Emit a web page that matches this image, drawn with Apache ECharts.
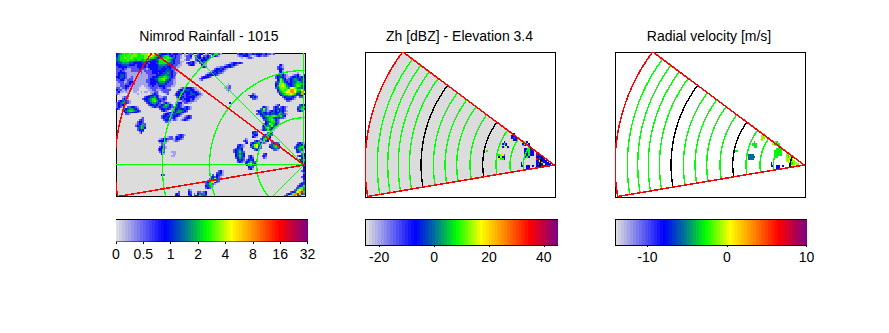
<!DOCTYPE html>
<html><head><meta charset="utf-8">
<style>html,body{margin:0;padding:0;background:#fff}#c{width:889px;height:333px}
svg path,svg rect,svg line{shape-rendering:crispEdges}</style>
<script src="https://cdn.jsdelivr.net/npm/echarts@6/dist/echarts.min.js"></script>
</head><body><div id="c"></div>
<script>
const titles=["Nimrod Rainfall - 1015","Zh [dBZ] - Elevation 3.4","Radial velocity [m/s]"];
const rainTickLabels=["0","0.5","1","2","4","8","16","32"];
const rainTicks=[0,1,2,3,4,5,6,7];
const zhTicks=[-20,0,20,40];
const velTicks=[-10,0,10];
// range rings in km
const mapRings=[50,100,150];
const mapSpokes=[90,135,180,225];
const sweepRings=[14.8,32.5,46.6,61.4,75.5,88.9,103,115.3,127.7,140.7,153,164.8,176,187];
const sweepBlackRings=[14.8,75.5,140.7];
const sectorRange=200, sectorAngles=[143.2,189.6];
// level letters -> position on each colour scale
const rainLevels={a:.5,b:1.15,c:1.7,d:2.3,e:2.8,f:3.2,g:3.7,h:4.2,i:5,j:6};
const zhLevels={a:-15,c:-7,d:-2,e:3,f:8,g:13,h:18,i:25,j:35,k:42};
const velLevels={c:-8,d:-5.5,e:-4,f:-3,g:-1,h:.5};
// [column, row, cells]: 2 km raster
const rainPatches=[
[0,0,["cdefgffgfggffgggghhhggfdcccdcbcccbb.a.bbc..bcc",
"ceffgfgfgggffffgghhgfedcdeffdcbcbba.abbc.abdc",
"deffggfggffffffgggffedcdeffgfedcbba..bbb..bcca",
"deffffgfffeffeeffedccdeffggfedcbbb..abb...bccb",
"ddeffffeedddcdeedcccccdfffgffdcbbbaa.......bccb",
"cddeeeeddcccccddcbcccdeffffeddcbbba",
"cccddddcccbcccccbcccccdeeeddccbbbaa",
"bcccccbbbbbcccccbcccccdddcdcccbbaa",
"bbbcbbaabbbbccbbabccccddcccdcbbba",
"bbcbbaaabbbbbbabbbbcccccccdddcbaa",
"bccccbaaaaaaabaabbbcccbccddedcbba",
"bcddcbaaaaaaaaaaabbbbcccddeddcbb",
"ccddcbaabaaaaaaaabbcccdeeffedcba",
"bcdccbabbaaaaaaaabccddefggfecbba",
"bbccbabbbaaaaaaabbcccdeffgedcbaa",
"abbbaabccbaaaaaabbccccdeeedcbbaa",
"aabbabbcbbaaaaaaabcccbcdddcbbbaa",
"aabbbccbaaaaa..aabbcbbbcccbbbaa",
"bbabbcbaaaaa....aabbbbabbcbaa",
"cbbaabaa.aaa.....aabbaaabbbbb",
"bcaa.aa..aa..a.aa.aabba.abbb",
"ba....a....a.......aab....ab"]],
[13,21,[".....abcba....","...abccdcba...","..bccddecbaabb",".bccdeffdcbbcb","..bcdefgedcbba","...bcdeedcba..","....bccdcba...",".....abcba...."]],
[30,18,["....abbcccbaa...","...bccdddccbaa..","..bcddcccdcccba.",".bccdcbccdddccba","abcccbbcddcdcbaa","..bcccbcccccbaa.","..abcbcccbcbaa..","...aabbccbbaa...",".....abbaa......"]],
[21,26,["....bcba..abcca.....","..bcdfecb.bdcba.....",".bcdeedcbbcdcbabcba.","..bccdcbabccdccdcba.","...bcba.abcdeedcb...",".....abcbcdeedcba...","....bccbcddccba.....","...bccdcbcccba.abcb.","...bcdcbbcba..abccb.","....bccbabba.abcba..",".....bba.........."]],
[0,23,["...abba.","...bcba.",".bcdecba","bcdeecba","bcdcba..","bcba...","cb....."]],
[3,28,["...bbccba.",".bcdeedcb.","bcdeffedcb",".bcddcccba","..bba....."]],
[10,34,["...ab.","..bcb.",".bccb.","abcdeb","bcdfeb",".bdfec",".bcdc.","..bcb.","..ac.."]],
[21,43,["...........abcba","......abb.bcdcb","..abccbbbabccba.",".bcccba..abba...","..abba.........","...bb.........","..bcba........",".bccba........",".bccb.........","..bcb.........","...ca........."]],
[29,52,["aaa",".aa","aa."]],[24,64,["cb"]],
[44,5,["................abccdcb",".............abccdcba..",".........aabbccdcba....","........bccdcba.......","......abccdcba.........","....abccdcbba..........","...bcccccba............",".bcccba...","bccba....","ab......."]],
[37,4,["..bcba","bcdcba",".bccb."]],
[43,0,["....ab.","...bbcb","..bcdcb",".bcccb.","bccbb..",".bbba..","..cba..","..bcb.."]],
[64,0,["bccdccbbcdcccbbcbbab","abbcccba.abcbabba..","..a..abba........."]],
[50,0,["bdefba",".bcba."]],
[57,16,["..a.",".aab","aabb",".aba","..a."]],
[70,21,["..ba.","bccba",".cdcb","..bba"]],[60,26,["c"]],
[84,6,["..bca...........",".bcba...........",".bccb...........","..cca...........","..bcb.......a...","bcdecba..abbca.c","bcddcbaabccdcbcc","bcefdcabcdeddcdc",".cdgecbbcdeedcdd","bdegfdcbcddefedc","cdgghfdccdefffed","cegghgedcdefgfdc","bdfgggfehhgfeedc",".cefgfghiihgffhd",".bdefghhiihfedih","..cdefgghgfdcdic","...cdeeffedcbcc.","....bcdddcba.bb.",".....bcccba.....","......bba......."]],
[96,27,[".bcc","bdef","cefd","bcb."]],
[74,27,["..........abc....","...bcba..bcd.bcba","..bdgba..bcdcdcb.","bcdefbabcdcbcdcba",".cdeccbcddccdeca.","bbcddcdcddcdfedba","..bcdefefgfeefdc.","...bcdeffdcdcbba.","....bdefgfcba....",".....cdeffdba..","....bcdgfecba...","...bcdeegdba....","...bdegecba.....","..abcdfdca......"]],
[76,42,["....bcc","..bcdeb",".bdgfc.","bcefdb.","bdgdc..","cdba..."]],
[71,46,["..bcba","bcdefc","cegheb","bdghdb",".cdecb","..bca."]],
[81,47,[".bcdba","bdefdc","cdefec",".cdedb","..bba."]],
[67,45,[".ba","bcb",".bc"]],[77,53,[".bc","bcb",".ba"]],
[72,41,["bcb","cdb","bcc","cba"]],
[62,48,["..bcba","..cdba",".bcdc.","bcdec.","bcdfdb",".cdedc",".cdfdc",".bcedb","..cdcb","..bcba"]],
[68,54,["..bca.","..bcb.",".bcdc.","bcdfdb","cdghec",".cfgdb","..cdb.","..bca."]],
[94,47,["..bcba",".bcdcb","bcdefc","bcefdb",".cdeda",".bcba."]],
[96,53,["..bcc","bcdc.","..cde","bcdfe","..cde","...cd","...bd","...cc","...cd","..bcd","...bc","...cd","..bcd","...cc","...bc","..b.c"]],
[89,67,["..........bc",".........bcd","........bcde",".......bcdfe","......bdfged",".....bdghied","...bcdghijfd",".bcdgiijgdb.","bdghiihdb..."]],
[47,62,[".......bca","......bdca","....b.cdba","...bcbcba.","..bcdgdb..",".bcdghdb..","bcefhcba..","bdfdba....","cdeba.....","bcba......"]],
[31,73,["..b","bcb","ccc"]],
[38,72,["ba........","cb...bbabc","cd.b.cedec","bc.bcdfedb"]]
];
const zhPatches=[
[72,47,[".c.","cfc","ghc","cghc"]],
[70,54,["fgha","cgcc","hffc"]],
[63,52,["hf"]],
[77,43,[".c.","cc.","cdc","hcc"]],
[83,47,["fgc","cghc","fcfc"]],
[84,51,["ccfc.","cdfcc","ccfcc",".cfcc","cfc.."]],
[82,58,["c.","c.","cc"]],
[85,60,["cc.c","cc.."]],
[90,53,["cc......","kcc.....","cccc....","jcdcc...","ckhccc..","cckgccc.","cdcchccc","cccckcc."]]
];
const velPatches=[
[72,47,[".f.","fff","fff",".ff"]],
[70,54,["ddd","dddd","ddd."]],
[63,52,["ff"]],
[77,43,[".g.","gg.","gg.","g.."]],
[83,47,["ggf","gfgf",".gff"]],
[84,51,[".fff","ffff","ffff",".fff","ff.."]],
[82,58,["c.","c.","cc"]],
[85,60,["cc.c","cc.."]],
[90,53,["g.......","gf......","gfg.....","ghgg....","gghgg...",".ggfgg..","..gfghg.","..g.gh.."]]
];
const frames=[
 {left:116,top:53,width:189,height:143,xMin:-198.9,xMax:1.06,yMin:-32.8,yMax:118.5},
 {left:365.5,top:52,width:190,height:145,xMin:-199.5,xMax:1.5,yMin:-33.9,yMax:119.6},
 {left:615.5,top:52,width:190,height:145,xMin:-199.5,xMax:1.5,yMin:-33.9,yMax:119.6}];
const bars=[
 {left:116,top:219.5,width:191.5,height:22,min:0,max:7,ticks:rainTicks,fmt:v=>rainTickLabels[v]},
 {left:365.5,top:219.5,width:192,height:25.5,min:-25,max:45,ticks:zhTicks,fmt:v=>String(v)},
 {left:615.5,top:219.5,width:191,height:25.5,min:-14,max:10,ticks:velTicks,fmt:v=>String(v)}];
const stops=[[0,220,220,225],[.25,0,0,255],[.37,0,128,140],[.47,0,255,0],[.6,255,255,0],[.72,255,140,0],[.857,255,0,0],[1,128,0,128]];
function ramp(f){
  f=Math.max(0,Math.min(1,f)); f=Math.min(63,Math.floor(f*64))/63;
  for(let i=1;i<stops.length;i++){ if(f<=stops[i][0]){const a=stops[i-1],b=stops[i],t=(f-a[0])/(b[0]-a[0]);
    return `rgb(${[1,2,3].map(k=>Math.round(a[k]+(b[k]-a[k])*t)).join(',')})`;}}
  return 'rgb(128,0,128)';
}
const RED='#ff0000',GREEN='#00ff00',BLACK='#000000';
function cellsFrom(patches,levels,fr){
  const out=[];
  patches.forEach(([c,r,rows])=>rows.forEach((s,j)=>[...s].forEach((ch,i)=>{
    if(levels[ch]!==undefined) out.push([fr.xMin+(c+i)*2,fr.yMax-(r+j)*2,levels[ch]]);
  })));
  return out;
}
function cellSeries(idx,data,lo,hi){
  return {type:'custom',xAxisIndex:idx,yAxisIndex:idx,clip:true,silent:true,z:3,data,animation:false,
    renderItem:(p,api)=>{
      const a=api.coord([api.value(0),api.value(1)]),b=api.coord([api.value(0)+2,api.value(1)-2]);
      return {type:'rect',shape:{x:a[0],y:a[1],width:b[0]-a[0],height:b[1]-a[1]},style:{fill:ramp((api.value(2)-lo)/(hi-lo))}};
    }};
}
function arcPts(api,r,a0,a1){
  const pts=[];const n=Math.max(2,Math.ceil(Math.abs(a1-a0)/1.5));
  for(let i=0;i<=n;i++){const t=(a0+(a1-a0)*i/n)*Math.PI/180;pts.push(api.coord([r*Math.cos(t),r*Math.sin(t)]));}
  return pts;
}
function ringSeries(idx,radii,a0,a1,color,z,lw){
  return {type:'custom',xAxisIndex:idx,yAxisIndex:idx,clip:true,silent:true,z,animation:false,data:radii.map(r=>[r]),
    renderItem:(p,api)=>({type:'polyline',shape:{points:arcPts(api,api.value(0),a0,a1)},style:{stroke:color,fill:'none',lineWidth:lw}})};
}
function spokeSeries(idx,angles,range,color,z){
  return {type:'custom',xAxisIndex:idx,yAxisIndex:idx,clip:true,silent:true,z,animation:false,data:angles.map(a=>[a]),
    renderItem:(p,api)=>{const t=api.value(0)*Math.PI/180;
      return {type:'polyline',shape:{points:[api.coord([0,0]),api.coord([range*Math.cos(t),range*Math.sin(t)])]},style:{stroke:color,fill:'none',lineWidth:1}};}};
}
function sectorSeries(idx,fill,z){
  return {type:'custom',xAxisIndex:idx,yAxisIndex:idx,clip:true,silent:true,z,animation:false,data:[[sectorRange]],
    renderItem:(p,api)=>{const pts=[api.coord([0,0]),...arcPts(api,api.value(0),sectorAngles[0],sectorAngles[1]),api.coord([0,0])];
      return {type:'polygon',shape:{points:pts},style:fill?{fill,stroke:null}:{fill:'none',stroke:RED,lineWidth:1.5}};}};
}
const grid=[],xAxis=[],yAxis=[],series=[];
frames.forEach((f,i)=>{
  grid.push({left:f.left,top:f.top,width:f.width,height:f.height,show:true,borderColor:'#000',borderWidth:1,
    backgroundColor:i===0?'#dcdcdc':'#fff'});
  xAxis.push({gridIndex:i,type:'value',min:f.xMin,max:f.xMax,show:false});
  yAxis.push({gridIndex:i,type:'value',min:f.yMin,max:f.yMax,show:false});
});
series.push(cellSeries(0,cellsFrom(rainPatches,rainLevels,frames[0]),0,7));
series.push(ringSeries(0,mapRings,0,360,GREEN,5,1.3));
series.push(spokeSeries(0,mapSpokes,sectorRange+40,GREEN,5));
series.push(sectorSeries(0,null,6));
[[1,zhPatches,zhLevels,-25,45],[2,velPatches,velLevels,-14,10]].forEach(([i,pt,lv,lo,hi])=>{
  if(i===1) series.push(sectorSeries(i,'#dcdcdc',2));
  series.push(cellSeries(i,cellsFrom(pt,lv,frames[i]),lo,hi));
  series.push(ringSeries(i,sweepRings.filter(r=>!sweepBlackRings.includes(r)),sectorAngles[0],sectorAngles[1],GREEN,5,1.4));
  series.push(ringSeries(i,sweepBlackRings,sectorAngles[0],sectorAngles[1],BLACK,5,1.4));
  series.push(sectorSeries(i,null,6));
});
bars.forEach((b,k)=>{
  const gi=3+k;
  grid.push({left:b.left,top:b.top,width:b.width,height:b.height,show:true,borderColor:'#000',borderWidth:1,backgroundColor:'#fff',z:1});
  const common={gridIndex:gi,type:'value',min:b.min,max:b.max,splitLine:{show:false},axisLine:{show:true,lineStyle:{color:'#000',width:1}},
    axisTick:{show:true,inside:true,length:2,customValues:b.ticks,lineStyle:{color:'#000'}}};
  const xi=xAxis.length;
  xAxis.push({...common,position:'bottom',axisLabel:{show:true,customValues:b.ticks,formatter:b.fmt,color:'#000',fontFamily:'Liberation Sans',fontSize:14,margin:5,hideOverlap:false}});
  xAxis.push({...common,position:'top',axisLabel:{show:false}});
  const yi=yAxis.length;
  yAxis.push({gridIndex:gi,type:'value',min:0,max:1,show:false});
  yAxis.push({gridIndex:gi,type:'value',min:0,max:1,show:false});
  const w=(b.max-b.min)/64;
  const steps=[];for(let s=0;s<64;s++)steps.push([b.min+s*w,s]);
  series.push({type:'custom',xAxisIndex:xi,yAxisIndex:yi,clip:true,silent:true,z:3,animation:false,data:steps,
    renderItem:(p,api)=>{const a=api.coord([api.value(0),1]),c=api.coord([api.value(0)+w,0]);
      return {type:'rect',shape:{x:a[0],y:a[1],width:c[0]-a[0],height:c[1]-a[1]},style:{fill:ramp(api.value(1)/64+.001)}};}});
});
const centers=[204,454.5,704];
const title=titles.map((t,i)=>({text:t,left:centers[i],top:24,textAlign:'center',
  textStyle:{fontFamily:'Liberation Sans',fontSize:14,fontWeight:'normal',color:'#000'}}));
const chart=echarts.init(document.getElementById('c'),null,{renderer:'svg'});
chart.setOption({animation:false,backgroundColor:'#fff',title,grid,xAxis,yAxis,series});
</script></body></html>
